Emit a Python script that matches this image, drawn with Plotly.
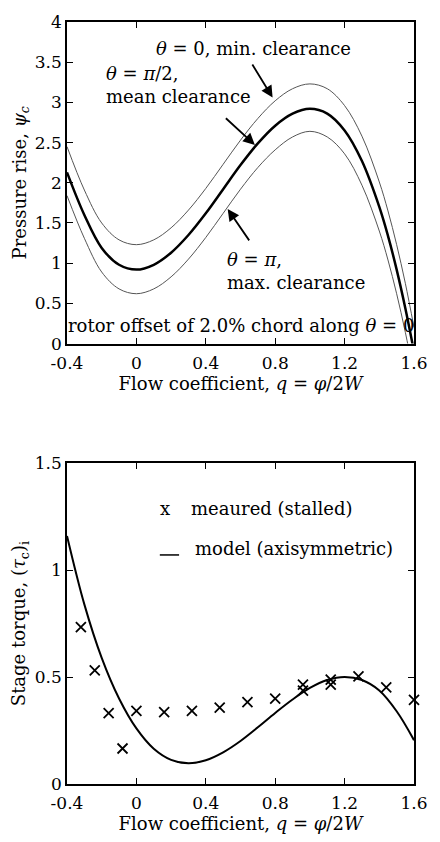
import plotly.graph_objects as go
from plotly.subplots import make_subplots

# ---- top panel: pressure rise characteristics ----
q_top = [-0.4, -0.3, -0.2, -0.1, 0.0, 0.1, 0.2, 0.3, 0.4, 0.5, 0.6, 0.7, 0.8, 0.9,
         1.0, 1.1, 1.2, 1.3, 1.4, 1.45, 1.5, 1.55, 1.6]
psi_mean = [2.13, 1.60, 1.19, 0.98, 0.92, 0.98, 1.13, 1.35, 1.62, 1.92, 2.22, 2.49, 2.71, 2.86,
            2.92, 2.86, 2.65, 2.27, 1.70, 1.34, 0.92, 0.44, -0.10]
psi_min_cl = [2.45, 1.91, 1.50, 1.29, 1.23, 1.29, 1.44, 1.66, 1.93, 2.23, 2.53, 2.80, 3.02, 3.17,
              3.23, 3.17, 2.96, 2.58, 2.01, 1.65, 1.23, 0.75, 0.20]
psi_max_cl = [1.84, 1.31, 0.89, 0.68, 0.62, 0.68, 0.83, 1.05, 1.32, 1.62, 1.92, 2.19, 2.41, 2.57,
              2.64, 2.57, 2.36, 1.97, 1.40, 1.04, 0.62, 0.14, -0.40]

# ---- bottom panel: stage torque ----
q_model = [-0.4, -0.3, -0.2, -0.1, 0.0, 0.1, 0.2, 0.3, 0.4, 0.5, 0.6, 0.7, 0.8, 0.9,
           1.0, 1.1, 1.2, 1.3, 1.4, 1.5, 1.6]
tau_model = [1.16, 0.84, 0.59, 0.40, 0.26, 0.165, 0.113, 0.097, 0.111, 0.148, 0.201, 0.265,
             0.332, 0.395, 0.449, 0.486, 0.50, 0.486, 0.437, 0.340, 0.205]
q_meas = [-0.32, -0.24, -0.16, -0.08, 0.0, 0.16, 0.32, 0.48, 0.64, 0.80, 0.96, 0.96,
          1.12, 1.12, 1.28, 1.44, 1.60]
tau_meas = [0.733, 0.531, 0.331, 0.166, 0.342, 0.336, 0.342, 0.357, 0.383, 0.399, 0.465,
            0.437, 0.488, 0.465, 0.503, 0.452, 0.393]

x_ticks = [-0.4, 0, 0.4, 0.8, 1.2, 1.6]
x_ticklabels = ["-0.4", "0", "0.4", "0.8", "1.2", "1.6"]
y_ticks_top = [0, 0.5, 1, 1.5, 2, 2.5, 3, 3.5, 4]
y_ticklabels_top = ["0", "0.5", "1", "1.5", "2", "2.5", "3", "3.5", "4"]
y_ticks_bot = [0, 0.5, 1, 1.5]
y_ticklabels_bot = ["0", "0.5", "1", "1.5"]

FONT = "DejaVu Serif"
FS = 17

fig = make_subplots(rows=2, cols=1)

fig.add_trace(go.Scatter(x=q_top, y=psi_min_cl, mode="lines", line=dict(color="#555555", width=1, shape="spline"),
                         showlegend=False), row=1, col=1)
fig.add_trace(go.Scatter(x=q_top, y=psi_max_cl, mode="lines", line=dict(color="#555555", width=1, shape="spline"),
                         showlegend=False), row=1, col=1)
fig.add_trace(go.Scatter(x=q_top, y=psi_mean, mode="lines", line=dict(color="black", width=2.5, shape="spline"),
                         showlegend=False), row=1, col=1)

fig.add_trace(go.Scatter(x=q_model, y=tau_model, mode="lines", line=dict(color="black", width=2, shape="spline"),
                         showlegend=False), row=2, col=1)
fig.add_trace(go.Scatter(x=q_meas, y=tau_meas, mode="markers", cliponaxis=False,
                         marker=dict(symbol="x-thin", size=10, line=dict(color="black", width=1.8)),
                         showlegend=False), row=2, col=1)

axis_common = dict(showline=True, linecolor="black", linewidth=1.5, mirror="ticks",
                   ticks="inside", ticklen=6, tickcolor="black", showgrid=False, zeroline=False,
                   tickfont=dict(family=FONT, size=FS, color="black"))

xtitle = "Flow coefficient, <i>q</i> = <i>φ</i>/2<i>W</i>"
fig.update_xaxes(**axis_common, range=[-0.4, 1.6], tickvals=x_ticks, ticktext=x_ticklabels,
                 ticklabelstandoff=3)
fig.update_xaxes(domain=[0, 1], row=1, col=1,
                 title=dict(text=xtitle, font=dict(family=FONT, size=FS + 1, color="black"), standoff=4))
fig.update_xaxes(domain=[0, 1], row=2, col=1,
                 title=dict(text=xtitle, font=dict(family=FONT, size=FS + 1, color="black"), standoff=4))
fig.update_yaxes(**axis_common)
fig.update_yaxes(domain=[0.578, 1.0], range=[0, 4], tickvals=y_ticks_top, ticktext=y_ticklabels_top,
                 title=dict(text="Pressure rise, <i>ψ</i><sub><i>c</i></sub>",
                            font=dict(family=FONT, size=FS + 1, color="black"), standoff=4),
                 row=1, col=1)
fig.update_yaxes(domain=[0.0, 0.421], range=[0, 1.5], tickvals=y_ticks_bot, ticktext=y_ticklabels_bot,
                 title=dict(text="Stage torque, (<i>τ</i><sub>c</sub>)<sub>i</sub>",
                            font=dict(family=FONT, size=FS + 1, color="black"), standoff=4),
                 row=2, col=1)

ann_font = dict(family=FONT, size=FS + 1, color="black")
arrow = dict(showarrow=True, arrowhead=2, arrowsize=1.3, arrowwidth=1.8, arrowcolor="black",
             text="", axref="x", ayref="y", xref="x", yref="y")
annotations = [
    # top panel labels with arrows
    dict(xref="x", yref="y", x=0.674, y=3.67, text="<i>θ</i> = 0, min. clearance",
         showarrow=False, font=ann_font),
    dict(x=0.785, y=3.06, ax=0.663, ay=3.49, **arrow),
    dict(xref="x", yref="y", x=-0.187, y=3.214, xanchor="left", align="left",
         text="<i>θ</i> = <i>π</i>/2,<br>mean clearance", showarrow=False, font=ann_font),
    dict(x=0.683, y=2.47, ax=0.507, ay=2.82, **arrow),
    dict(xref="x", yref="y", x=0.508, y=0.906, xanchor="left", align="left",
         text="<i>θ</i> = <i>π</i>,<br>max. clearance", showarrow=False, font=ann_font),
    dict(x=0.526, y=1.674, ax=0.656, ay=1.265, **arrow),
    dict(xref="x", yref="y", x=0.602, y=0.224, text="rotor offset of 2.0% chord along <i>θ</i> = 0",
         showarrow=False, font=ann_font),
    # bottom panel legend
    dict(xref="x2", yref="y2", x=0.164, y=1.287, text="x", showarrow=False, font=ann_font),
    dict(xref="x2", yref="y2", x=0.303, y=1.287, xanchor="left", text="meaured (stalled)",
         showarrow=False, font=ann_font),
    dict(xref="x2", yref="y2", x=0.325, y=1.103, xanchor="left", text="model (axisymmetric)",
         showarrow=False, font=ann_font),
]

fig.add_shape(type="line", xref="x2", yref="y2", x0=0.135, x1=0.246, y0=1.071, y1=1.071,
              line=dict(color="black", width=1.5))

fig.update_layout(width=440, height=842, margin=dict(l=67, r=13, t=13, b=54),
                  plot_bgcolor="white", paper_bgcolor="white", annotations=annotations,
                  font=dict(family=FONT, color="black"))

fig.write_html("out.html")
